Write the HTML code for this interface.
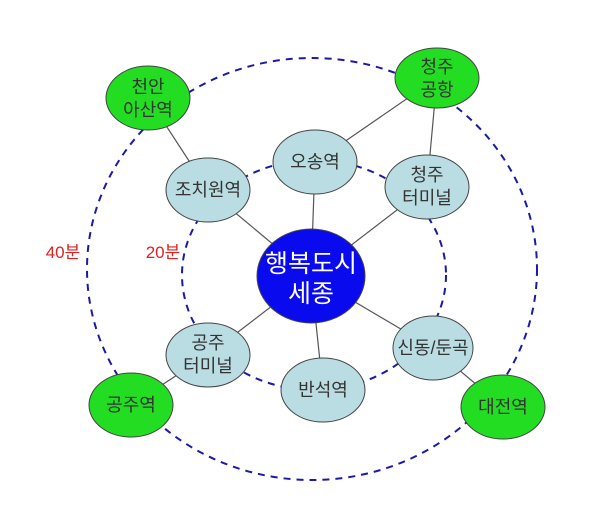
<!DOCTYPE html>
<html><head><meta charset="utf-8"><style>
html,body{margin:0;padding:0;background:#fff;}
svg text{font-family:"Liberation Sans","Noto Sans CJK KR",sans-serif;}
</style></head><body>
<svg width="600" height="520" viewBox="0 0 600 520" xmlns="http://www.w3.org/2000/svg">
<rect width="600" height="520" fill="#fff"/>
<g stroke="#555" stroke-width="1.2">
<line x1="148" y1="98" x2="208" y2="190"/>
<line x1="437" y1="78" x2="315" y2="162"/>
<line x1="437" y1="78" x2="427" y2="187"/>
<line x1="315" y1="162" x2="311" y2="276"/>
<line x1="208" y1="190" x2="311" y2="276"/>
<line x1="427" y1="187" x2="311" y2="276"/>
<line x1="208" y1="355" x2="311" y2="276"/>
<line x1="323" y1="390" x2="311" y2="276"/>
<line x1="433" y1="348" x2="311" y2="276"/>
<line x1="208" y1="355" x2="131" y2="405"/>
<line x1="433" y1="348" x2="503" y2="407"/>
</g>
<g fill="none" stroke="#1a1aa8" stroke-width="2" stroke-dasharray="7,6">
<ellipse cx="314" cy="275" rx="132" ry="115"/>
<ellipse cx="312" cy="269" rx="225" ry="211"/>
</g>
<g stroke="#444" stroke-width="1">
<ellipse cx="148" cy="98" rx="42" ry="32" fill="#22dd22"/>
<ellipse cx="437" cy="78" rx="42" ry="30" fill="#22dd22"/>
<ellipse cx="131" cy="405" rx="42" ry="32" fill="#22dd22"/>
<ellipse cx="503" cy="407" rx="42" ry="32" fill="#22dd22"/>
<ellipse cx="315" cy="162" rx="42" ry="32" fill="#b9dde3"/>
<ellipse cx="208" cy="190" rx="42" ry="32" fill="#b9dde3"/>
<ellipse cx="427" cy="187" rx="42" ry="32" fill="#b9dde3"/>
<ellipse cx="208" cy="355" rx="42" ry="32" fill="#b9dde3"/>
<ellipse cx="323" cy="390" rx="42" ry="32" fill="#b9dde3"/>
<ellipse cx="433" cy="348" rx="40" ry="32" fill="#b9dde3"/>
<ellipse cx="311" cy="276" rx="54" ry="47" fill="#0a0aee"/>
</g>
<g fill="#333" font-size="18" text-anchor="middle">
<text x="148" y="93">천안</text><text x="148" y="116">아산역</text>
<text x="437" y="73">청주</text><text x="437" y="96">공항</text>
<text x="131" y="411">공주역</text>
<text x="503" y="413">대전역</text>
<text x="315" y="168">오송역</text>
<text x="208" y="196">조치원역</text>
<text x="427" y="181">청주</text><text x="427" y="204">터미널</text>
<text x="208" y="349">공주</text><text x="208" y="372">터미널</text>
<text x="323" y="396">반석역</text>
<text x="433" y="354">신동/둔곡</text>
</g>
<g fill="#fff" font-size="25" text-anchor="middle">
<text x="311" y="272">행복도시</text><text x="311" y="302">세종</text>
</g>
<g fill="#dd2222" font-size="17" text-anchor="middle">
<text x="63" y="258">40분</text><text x="163" y="258">20분</text>
</g>
</svg>
</body></html>
